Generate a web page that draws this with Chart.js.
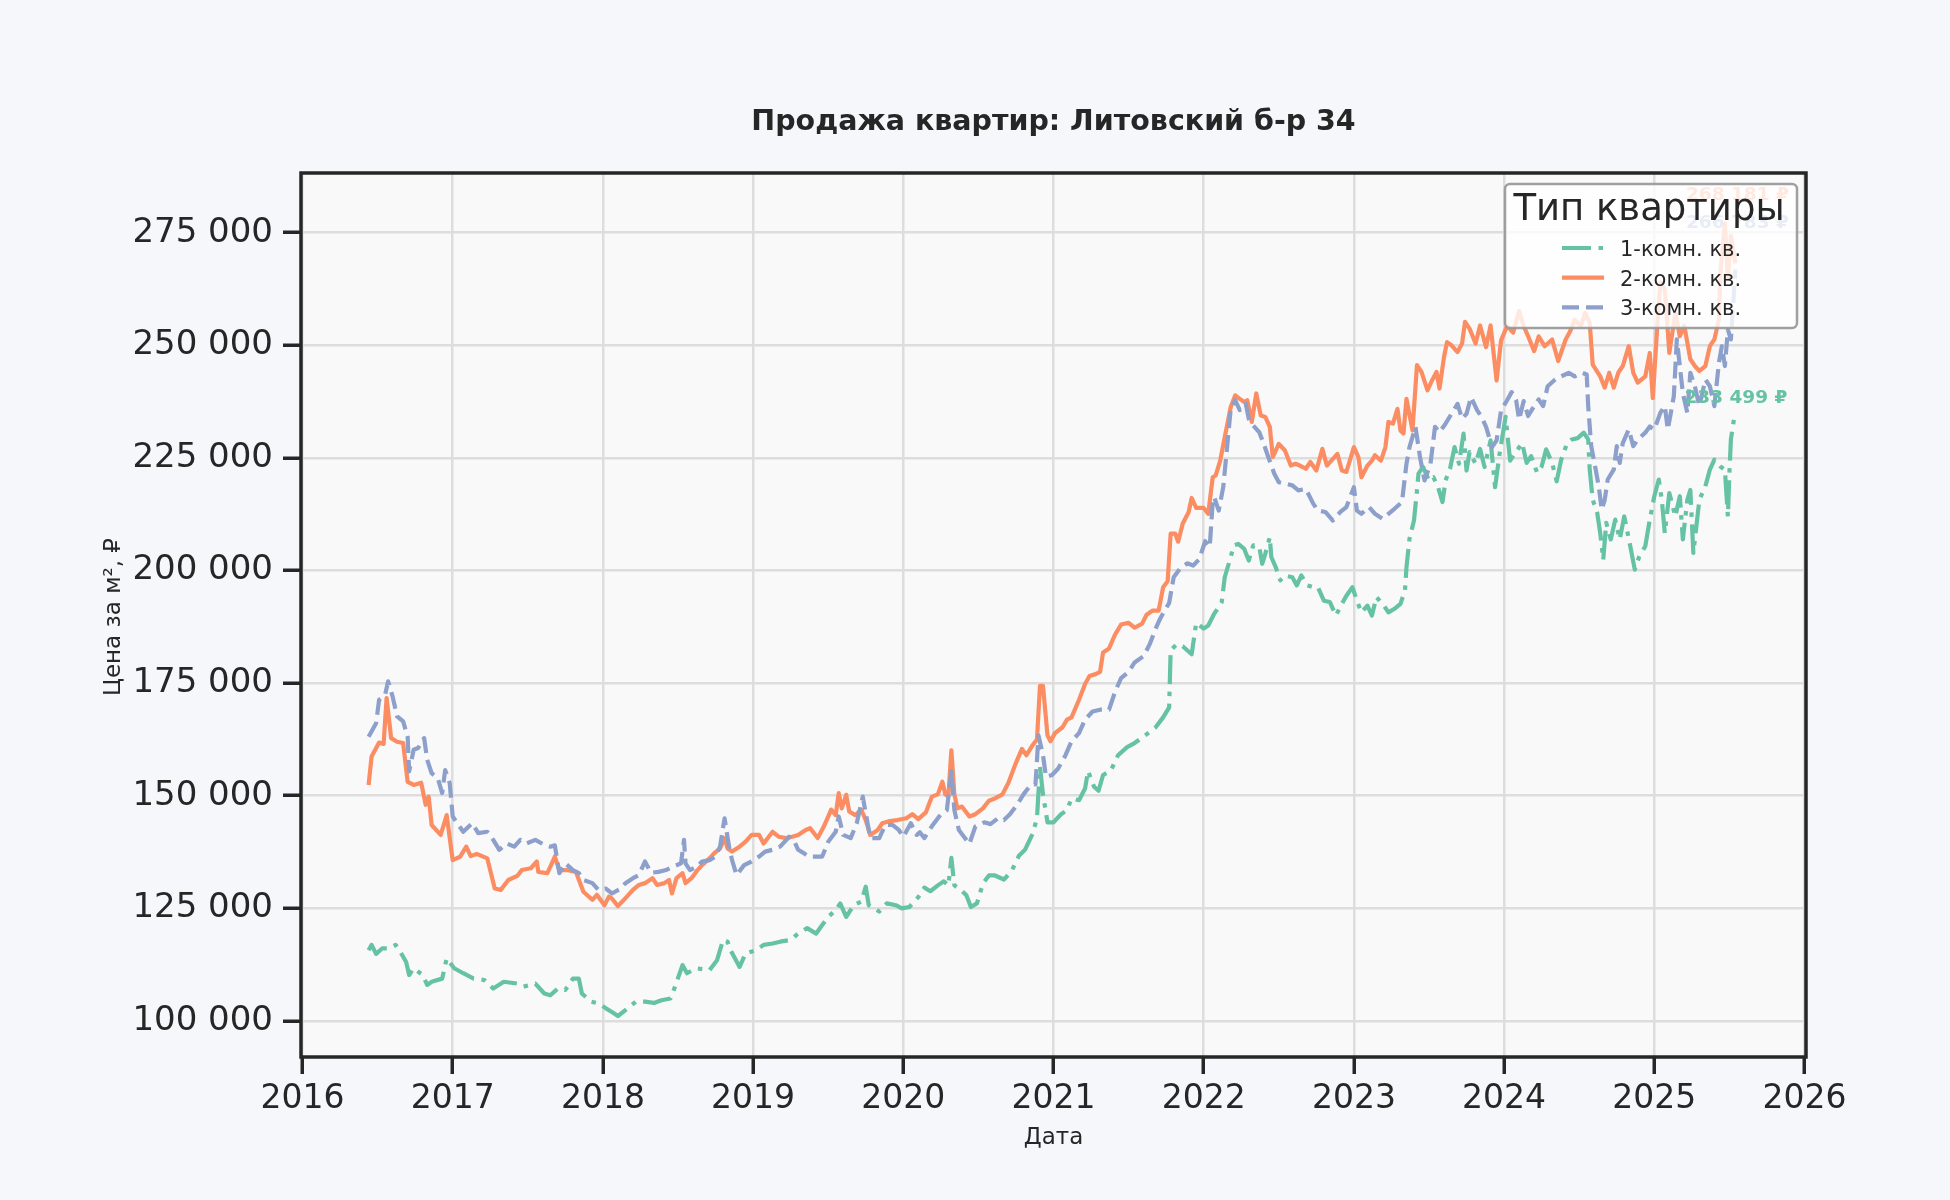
<!DOCTYPE html>
<html lang="ru">
<head>
<meta charset="utf-8">
<title>Продажа квартир: Литовский б-р 34</title>
<script src="https://cdn.jsdelivr.net/npm/chart.js@4.4.1/dist/chart.umd.min.js"></script>
<style>
  html, body { margin: 0; padding: 0; background: #f5f7fa; }
  canvas { display: block; }
</style>
</head>
<body>
<canvas id="priceChart" width="1950" height="1200" style="width:1950px;height:1200px"></canvas>
<script>
// Ось X — годы, ось Y — цена за м² (тыс. ₽ в массивах ниже)
const X_TICKS = [2016, 2017, 2018, 2019, 2020, 2021, 2022, 2023, 2024, 2025, 2026];
const Y_TICKS = [100000, 125000, 150000, 175000, 200000, 225000, 250000, 275000];
const SERIES_NAMES = ['1-комн. кв.', '2-комн. кв.', '3-комн. кв.'];

// [дата (доля года), цена тыс. ₽]
const ONE_ROOM = [
  [2016.44,115.7],[2016.46,116.9],[2016.49,114.9],[2016.53,116.1],[2016.57,116.1],[2016.62,116.9],[2016.65,115.4],
  [2016.69,113.1],[2016.71,110.2],[2016.74,111.7],[2016.80,110.2],[2016.83,108.0],[2016.86,108.7],[2016.93,109.4],
  [2016.96,113.9],[2017.01,111.7],[2017.07,110.6],[2017.14,109.4],[2017.21,109.1],[2017.27,107.2],[2017.34,108.7],
  [2017.43,108.3],[2017.47,107.6],[2017.55,108.3],[2017.61,106.1],[2017.65,105.7],[2017.70,107.2],[2017.75,106.9],
  [2017.80,109.4],[2017.84,109.4],[2017.86,106.1],[2017.92,104.3],[2017.97,103.9],[2018.02,102.8],[2018.06,102.0],
  [2018.10,101.1],[2018.15,102.4],[2018.22,104.3],[2018.28,104.3],[2018.34,104.0],[2018.39,104.6],[2018.45,105.0],
  [2018.48,107.6],[2018.53,112.4],[2018.56,110.6],[2018.62,111.7],[2018.71,111.3],[2018.76,113.5],[2018.80,118.0],
  [2018.83,117.6],[2018.85,115.7],[2018.91,112.0],[2018.95,115.0],[2019.02,115.7],[2019.07,116.9],[2019.13,117.2],
  [2019.18,117.6],[2019.25,118.0],[2019.30,119.4],[2019.36,120.6],[2019.42,119.4],[2019.46,121.3],[2019.50,123.1],
  [2019.55,124.6],[2019.58,126.1],[2019.62,123.1],[2019.67,125.7],[2019.72,126.5],[2019.75,129.8],[2019.77,125.7],
  [2019.84,124.3],[2019.89,126.1],[2019.95,125.7],[2019.99,125.0],[2020.04,125.3],[2020.10,127.5],[2020.14,129.6],
  [2020.18,128.8],[2020.23,130.1],[2020.27,131.0],[2020.30,130.1],[2020.32,136.2],[2020.34,130.1],[2020.38,129.2],
  [2020.42,127.9],[2020.45,125.3],[2020.49,126.1],[2020.53,130.5],[2020.57,132.3],[2020.61,132.3],[2020.67,131.4],
  [2020.72,133.2],[2020.77,136.7],[2020.81,138.0],[2020.86,141.5],[2020.89,145.0],[2020.91,156.4],[2020.93,150.3],
  [2020.96,144.1],[2021.00,144.1],[2021.05,145.9],[2021.09,146.8],[2021.12,149.4],[2021.17,149.0],[2021.21,151.6],
  [2021.23,155.5],[2021.27,152.0],[2021.30,151.1],[2021.33,154.6],[2021.38,155.5],[2021.43,159.0],[2021.49,160.8],
  [2021.54,161.7],[2021.61,163.4],[2021.68,165.2],[2021.73,167.4],[2021.77,169.6],[2021.78,182.3],[2021.82,183.6],
  [2021.86,183.2],[2021.92,181.4],[2021.95,188.4],[2022.00,187.1],[2022.03,187.8],[2022.07,190.4],[2022.10,191.9],
  [2022.12,193.0],[2022.14,198.5],[2022.18,203.0],[2022.20,205.6],[2022.23,205.9],[2022.27,204.8],[2022.30,202.2],
  [2022.33,205.6],[2022.37,205.2],[2022.39,201.5],[2022.41,203.7],[2022.44,207.4],[2022.45,203.0],[2022.48,200.7],
  [2022.51,197.8],[2022.54,198.9],[2022.59,198.5],[2022.62,196.7],[2022.65,198.9],[2022.69,196.7],[2022.73,196.3],
  [2022.76,196.3],[2022.80,193.3],[2022.84,193.0],[2022.88,190.0],[2022.92,192.6],[2022.95,194.4],[2022.99,196.3],
  [2023.02,193.3],[2023.05,190.7],[2023.09,192.2],[2023.12,190.0],[2023.15,194.1],[2023.20,192.2],[2023.23,190.7],
  [2023.27,191.5],[2023.31,192.6],[2023.34,195.6],[2023.35,200.7],[2023.37,207.0],[2023.40,211.1],[2023.42,217.8],
  [2023.43,221.5],[2023.46,223.0],[2023.50,220.0],[2023.53,220.7],[2023.56,218.5],[2023.59,215.2],[2023.61,220.0],
  [2023.64,222.6],[2023.67,227.4],[2023.70,223.7],[2023.73,230.4],[2023.75,222.2],[2023.77,226.3],[2023.81,223.7],
  [2023.84,227.0],[2023.87,223.0],[2023.91,228.9],[2023.94,218.5],[2023.97,225.9],[2024.01,234.1],[2024.04,224.4],
  [2024.07,225.9],[2024.12,228.3],[2024.15,223.9],[2024.18,225.4],[2024.22,221.7],[2024.25,223.1],[2024.28,226.9],
  [2024.32,223.9],[2024.35,219.8],[2024.38,224.6],[2024.42,228.3],[2024.45,229.1],[2024.49,229.4],[2024.53,230.6],
  [2024.56,229.1],[2024.57,222.4],[2024.59,215.7],[2024.62,212.8],[2024.64,208.3],[2024.66,202.4],[2024.68,210.6],
  [2024.71,206.9],[2024.74,211.3],[2024.77,206.9],[2024.80,212.0],[2024.84,205.4],[2024.87,200.2],[2024.90,203.1],
  [2024.94,205.4],[2024.97,211.3],[2025.00,216.5],[2025.03,220.2],[2025.05,215.7],[2025.07,208.3],[2025.10,217.2],
  [2025.14,212.0],[2025.17,216.5],[2025.19,206.9],[2025.22,215.7],[2025.24,217.9],[2025.26,203.9],[2025.28,209.8],
  [2025.30,215.7],[2025.34,218.7],[2025.37,222.4],[2025.40,224.6],[2025.44,223.1],[2025.47,222.4],[2025.49,212.0],
  [2025.50,221.7],[2025.51,229.1],[2025.53,233.499]
];

const TWO_ROOM = [
  [2016.44,152.4],[2016.46,158.7],[2016.51,161.8],[2016.54,161.5],[2016.56,171.7],[2016.59,162.8],[2016.63,162.0],
  [2016.67,161.7],[2016.70,153.1],[2016.74,152.4],[2016.79,152.9],[2016.82,148.0],[2016.84,149.8],[2016.86,143.5],
  [2016.92,141.3],[2016.96,145.7],[2017.00,135.7],[2017.05,136.5],[2017.09,138.7],[2017.12,136.6],[2017.16,137.1],
  [2017.23,136.1],[2017.28,129.4],[2017.32,129.1],[2017.37,131.3],[2017.43,132.2],[2017.46,133.5],[2017.52,133.9],
  [2017.56,135.4],[2017.57,133.1],[2017.63,132.8],[2017.66,135.0],[2017.68,136.5],[2017.71,133.5],[2017.76,133.5],
  [2017.82,133.1],[2017.87,128.7],[2017.93,126.9],[2017.96,128.0],[2018.01,125.7],[2018.04,127.6],[2018.06,127.2],
  [2018.10,125.5],[2018.14,126.9],[2018.20,129.1],[2018.24,130.2],[2018.28,130.6],[2018.33,131.7],[2018.36,130.2],
  [2018.41,130.6],[2018.44,131.3],[2018.46,128.3],[2018.49,131.7],[2018.53,132.8],[2018.55,130.6],[2018.59,131.7],
  [2018.63,133.5],[2018.66,134.6],[2018.71,136.1],[2018.74,137.2],[2018.78,138.3],[2018.81,140.6],[2018.83,138.3],
  [2018.86,137.6],[2018.91,138.7],[2018.95,139.8],[2018.99,141.3],[2019.04,141.3],[2019.07,139.4],[2019.13,142.0],
  [2019.17,140.9],[2019.22,140.6],[2019.26,140.9],[2019.30,141.3],[2019.35,142.4],[2019.38,142.8],[2019.43,140.6],
  [2019.47,143.1],[2019.52,146.9],[2019.55,145.7],[2019.57,150.6],[2019.59,147.2],[2019.62,150.2],[2019.64,146.5],
  [2019.68,145.7],[2019.72,146.9],[2019.75,144.6],[2019.78,141.3],[2019.83,142.4],[2019.86,143.9],[2019.90,144.3],
  [2019.96,144.6],[2020.02,145.0],[2020.06,145.9],[2020.10,144.8],[2020.15,146.3],[2020.19,149.8],[2020.23,150.3],
  [2020.26,153.1],[2020.28,150.3],[2020.30,149.8],[2020.32,160.1],[2020.34,150.3],[2020.36,147.2],[2020.39,147.6],
  [2020.44,145.4],[2020.48,145.9],[2020.53,147.2],[2020.57,148.9],[2020.61,149.4],[2020.66,150.3],[2020.70,152.9],
  [2020.75,157.3],[2020.79,160.4],[2020.82,159.0],[2020.86,161.2],[2020.89,162.5],[2020.91,174.4],[2020.93,174.4],
  [2020.96,163.4],[2020.98,162.1],[2021.01,163.9],[2021.06,165.2],[2021.09,166.9],[2021.12,167.4],[2021.17,171.3],
  [2021.21,174.8],[2021.24,176.6],[2021.28,177.0],[2021.31,177.5],[2021.33,181.8],[2021.37,182.7],[2021.41,185.8],
  [2021.45,188.0],[2021.50,188.4],[2021.54,187.3],[2021.59,188.2],[2021.62,190.2],[2021.66,191.1],[2021.70,191.1],
  [2021.73,196.3],[2021.76,197.6],[2021.78,208.2],[2021.81,208.2],[2021.83,206.4],[2021.86,210.4],[2021.90,213.0],
  [2021.92,216.1],[2021.95,213.9],[2022.00,213.9],[2022.03,212.6],[2022.06,220.7],[2022.08,221.1],[2022.11,224.4],
  [2022.14,229.6],[2022.18,236.3],[2022.21,238.9],[2022.24,238.1],[2022.27,237.4],[2022.29,237.8],[2022.32,233.0],
  [2022.35,239.3],[2022.38,234.4],[2022.41,234.1],[2022.44,231.9],[2022.46,225.2],[2022.50,228.1],[2022.54,226.7],
  [2022.58,223.3],[2022.61,223.7],[2022.64,223.3],[2022.68,222.6],[2022.71,224.1],[2022.75,222.2],[2022.79,227.0],
  [2022.82,223.3],[2022.85,224.4],[2022.89,225.9],[2022.92,222.2],[2022.95,221.9],[2023.00,227.4],[2023.03,225.2],
  [2023.05,220.7],[2023.09,223.3],[2023.12,224.4],[2023.14,225.6],[2023.18,224.4],[2023.21,227.4],[2023.23,233.0],
  [2023.26,232.6],[2023.29,235.9],[2023.31,231.1],[2023.33,230.4],[2023.35,238.1],[2023.39,231.1],[2023.42,245.6],
  [2023.45,244.1],[2023.49,240.0],[2023.52,242.2],[2023.55,244.1],[2023.57,240.4],[2023.60,247.4],[2023.62,250.7],
  [2023.65,250.0],[2023.69,248.5],[2023.72,250.4],[2023.74,255.2],[2023.77,253.7],[2023.81,250.4],[2023.84,254.4],
  [2023.88,249.6],[2023.91,254.4],[2023.95,242.2],[2023.98,251.1],[2024.02,254.3],[2024.06,252.8],[2024.10,257.6],
  [2024.13,254.3],[2024.16,252.0],[2024.20,248.7],[2024.23,252.0],[2024.27,249.8],[2024.32,251.3],[2024.36,246.5],
  [2024.41,251.3],[2024.44,253.1],[2024.47,255.7],[2024.51,254.3],[2024.54,257.2],[2024.57,255.0],[2024.59,245.7],
  [2024.64,243.1],[2024.67,240.6],[2024.70,243.9],[2024.73,240.6],[2024.76,243.9],[2024.79,245.4],[2024.83,249.8],
  [2024.86,243.9],[2024.89,241.7],[2024.94,243.1],[2024.97,248.3],[2024.99,238.3],[2025.02,254.3],[2025.04,264.0],
  [2025.07,262.4],[2025.10,248.3],[2025.14,257.2],[2025.17,252.0],[2025.20,254.3],[2025.24,246.9],[2025.27,245.4],
  [2025.30,244.3],[2025.34,245.4],[2025.37,249.8],[2025.40,251.3],[2025.43,255.7],[2025.44,266.1],[2025.47,277.0],
  [2025.49,264.6],[2025.51,274.3],[2025.54,268.181]
];

const THREE_ROOM = [
  [2016.44,163.1],[2016.49,166.1],[2016.51,171.3],[2016.55,172.4],[2016.57,175.4],[2016.60,172.0],[2016.63,167.6],
  [2016.67,166.5],[2016.70,163.1],[2016.71,155.4],[2016.74,160.2],[2016.77,160.6],[2016.81,162.8],[2016.83,158.0],
  [2016.86,155.0],[2016.90,153.9],[2016.93,150.6],[2016.95,155.7],[2016.98,152.8],[2017.00,145.4],[2017.03,143.9],
  [2017.07,142.0],[2017.13,143.9],[2017.17,141.7],[2017.23,142.0],[2017.27,140.2],[2017.31,138.0],[2017.36,139.4],
  [2017.41,138.7],[2017.45,140.2],[2017.49,139.4],[2017.55,140.2],[2017.61,139.1],[2017.65,138.7],[2017.68,139.0],
  [2017.71,132.8],[2017.75,135.0],[2017.80,133.5],[2017.84,132.8],[2017.87,131.3],[2017.93,130.6],[2017.97,129.1],
  [2018.02,129.4],[2018.06,128.3],[2018.12,129.4],[2018.15,130.6],[2018.20,131.7],[2018.24,132.4],[2018.28,135.4],
  [2018.32,132.9],[2018.37,133.1],[2018.42,133.5],[2018.47,134.3],[2018.52,135.0],[2018.54,140.2],[2018.55,135.0],
  [2018.58,133.5],[2018.63,134.3],[2018.66,135.4],[2018.71,135.7],[2018.75,136.5],[2018.78,138.7],[2018.81,145.0],
  [2018.84,138.7],[2018.86,135.7],[2018.89,132.4],[2018.94,134.6],[2018.99,135.4],[2019.04,136.5],[2019.08,137.6],
  [2019.13,138.0],[2019.18,138.7],[2019.24,140.9],[2019.27,140.2],[2019.30,138.0],[2019.34,137.2],[2019.37,136.5],
  [2019.42,136.5],[2019.46,136.5],[2019.50,139.8],[2019.55,142.0],[2019.57,145.4],[2019.60,141.3],[2019.65,140.6],
  [2019.69,143.9],[2019.73,149.8],[2019.75,146.1],[2019.78,140.6],[2019.84,140.6],[2019.88,143.5],[2019.93,143.5],
  [2019.97,142.4],[2020.00,140.9],[2020.05,143.9],[2020.09,141.3],[2020.11,141.9],[2020.14,140.6],[2020.19,143.2],
  [2020.25,145.9],[2020.29,146.8],[2020.32,155.5],[2020.34,146.8],[2020.37,142.4],[2020.44,139.3],[2020.48,143.2],
  [2020.54,144.1],[2020.58,143.7],[2020.63,145.0],[2020.67,144.6],[2020.71,145.9],[2020.76,148.1],[2020.80,150.3],
  [2020.85,152.5],[2020.88,152.5],[2020.90,163.4],[2020.93,159.0],[2020.95,154.2],[2020.99,154.6],[2021.03,156.0],
  [2021.08,159.0],[2021.12,162.1],[2021.17,163.9],[2021.21,166.9],[2021.26,168.7],[2021.31,169.1],[2021.37,169.1],
  [2021.41,173.1],[2021.45,176.1],[2021.50,177.5],[2021.54,179.6],[2021.60,181.0],[2021.64,183.6],[2021.68,187.1],
  [2021.71,189.3],[2021.74,191.1],[2021.77,192.8],[2021.80,198.5],[2021.84,200.3],[2021.89,201.6],[2021.93,201.1],
  [2021.97,202.5],[2022.01,206.5],[2022.04,205.2],[2022.06,215.2],[2022.07,216.3],[2022.10,213.3],[2022.13,218.5],
  [2022.16,228.9],[2022.18,235.9],[2022.21,237.8],[2022.24,235.6],[2022.28,237.0],[2022.30,233.7],[2022.33,232.2],
  [2022.37,230.7],[2022.40,228.1],[2022.43,225.2],[2022.47,221.5],[2022.50,219.6],[2022.54,219.3],[2022.59,218.9],
  [2022.63,217.8],[2022.68,218.1],[2022.73,214.8],[2022.76,213.3],[2022.81,213.0],[2022.86,211.1],[2022.91,213.0],
  [2022.95,214.1],[2023.00,218.5],[2023.02,213.3],[2023.05,212.6],[2023.10,214.1],[2023.14,212.6],[2023.19,211.5],
  [2023.23,212.6],[2023.27,213.7],[2023.32,215.2],[2023.35,223.7],[2023.37,227.4],[2023.41,231.9],[2023.44,225.2],
  [2023.47,220.0],[2023.51,223.7],[2023.54,231.9],[2023.57,230.7],[2023.61,232.6],[2023.65,234.8],[2023.69,237.0],
  [2023.72,233.7],[2023.75,234.8],[2023.78,238.5],[2023.82,235.6],[2023.85,234.1],[2023.88,231.9],[2023.92,227.4],
  [2023.95,228.9],[2023.98,235.6],[2024.02,237.8],[2024.05,239.6],[2024.08,237.8],[2024.10,233.5],[2024.13,237.6],
  [2024.16,234.3],[2024.20,236.5],[2024.23,238.0],[2024.26,236.5],[2024.29,240.9],[2024.34,242.4],[2024.38,243.1],
  [2024.43,243.9],[2024.47,243.1],[2024.52,243.9],[2024.55,243.5],[2024.56,236.5],[2024.58,227.6],[2024.61,222.4],
  [2024.63,218.7],[2024.65,213.5],[2024.67,215.7],[2024.69,220.2],[2024.73,222.4],[2024.75,227.6],[2024.77,223.9],
  [2024.79,228.3],[2024.83,231.3],[2024.86,227.6],[2024.89,229.1],[2024.94,230.6],[2024.97,232.0],[2025.00,231.3],
  [2025.04,235.0],[2025.07,236.5],[2025.09,231.3],[2025.13,238.7],[2025.15,251.3],[2025.17,245.4],[2025.19,239.4],
  [2025.22,235.0],[2025.24,243.9],[2025.27,240.9],[2025.30,236.5],[2025.34,242.4],[2025.37,240.9],[2025.40,236.5],
  [2025.43,246.1],[2025.45,249.8],[2025.47,245.4],[2025.49,253.5],[2025.51,251.3],[2025.54,266.783]
];

const COLORS = ['#66c2a5', '#fc8d62', '#8da0cb'];
const DASHES = [[29, 7.5, 4.5, 7.5], [], [17, 7]];
// смещение подписи последнего значения по вертикали, px
const LABEL_SHIFT = [-21, -68, -47];

const INK = '#262626';
const FONT = '"DejaVu Sans", "Liberation Sans", sans-serif';
const LINE_W = 4.2;

function groupThousands(v) {
    return String(Math.round(v)).replace(/\B(?=(\d{3})+(?!\d))/g, ' ');
}

const toPoints = rows => rows.map(r => ({ x: r[0], y: r[1] * 1000 }));

const backgroundPlugin = {
    id: 'backgrounds',
    beforeDraw(chart) {
        const { ctx, chartArea: a } = chart;
        ctx.save();
        ctx.fillStyle = '#f5f7fa';
        ctx.fillRect(0, 0, chart.width, chart.height);
        ctx.fillStyle = '#f9f9f9';
        ctx.fillRect(a.left, a.top, a.right - a.left, a.bottom - a.top);
        ctx.restore();
    }
};

const decorPlugin = {
    id: 'decor',
    afterDatasetsDraw(chart) {
        const { ctx, chartArea: a } = chart;
        ctx.save();
        // подписи последних значений
        ctx.font = 'bold 18.5px ' + FONT;
        ctx.textAlign = 'center';
        ctx.textBaseline = 'middle';
        chart.data.datasets.forEach((ds, i) => {
            const meta = chart.getDatasetMeta(i);
            const last = meta.data[meta.data.length - 1];
            const v = ds.data[ds.data.length - 1].y;
            ctx.fillStyle = COLORS[i];
            ctx.fillText(groupThousands(v) + ' ₽', last.x + 2, last.y + LABEL_SHIFT[i]);
        });
        // рамка
        ctx.strokeStyle = INK;
        ctx.lineWidth = 3.5;
        ctx.strokeRect(a.left, a.top, a.right - a.left, a.bottom - a.top);
        // заголовки
        ctx.fillStyle = INK;
        ctx.textBaseline = 'alphabetic';
        ctx.font = 'bold 28.5px ' + FONT;
        ctx.fillText('Продажа квартир: Литовский б-р 34', (a.left + a.right) / 2, 130);
        ctx.font = '23px ' + FONT;
        ctx.fillText('Дата', (a.left + a.right) / 2, 1144);
        ctx.translate(120, (a.top + a.bottom) / 2 + 2);
        ctx.rotate(-Math.PI / 2);
        ctx.fillText('Цена за м², ₽', 0, 0);
        ctx.restore();
    },
    afterDraw(chart) {
        const { ctx, chartArea: a } = chart;
        const w = 292, h = 144;
        const x = a.right - 9 - w, y = a.top + 11;
        ctx.save();
        ctx.beginPath();
        ctx.roundRect(x, y, w, h, 5);
        ctx.fillStyle = 'rgba(255,255,255,0.8)';
        ctx.fill();
        ctx.strokeStyle = 'rgba(150,150,150,0.9)';
        ctx.lineWidth = 2.5;
        ctx.stroke();
        ctx.fillStyle = INK;
        ctx.textAlign = 'center';
        ctx.font = '37px ' + FONT;
        ctx.fillText('Тип квартиры', x + w / 2 - 2, y + 36);
        ctx.textAlign = 'left';
        ctx.font = '21px ' + FONT;
        SERIES_NAMES.forEach((name, i) => {
            const base = y + 72 + i * 29.7;
            ctx.beginPath();
            ctx.setLineDash(DASHES[i]);
            ctx.strokeStyle = COLORS[i];
            ctx.lineWidth = LINE_W;
            ctx.moveTo(x + 57, base - 8);
            ctx.lineTo(x + 99, base - 8);
            ctx.stroke();
            ctx.setLineDash([]);
            ctx.fillStyle = INK;
            ctx.fillText(name, x + 115, base);
        });
        ctx.restore();
    }
};

const series = [ONE_ROOM, TWO_ROOM, THREE_ROOM];

new Chart(document.getElementById('priceChart'), {
    type: 'line',
    data: {
        datasets: series.map((rows, i) => ({
            label: SERIES_NAMES[i],
            data: toPoints(rows),
            borderColor: COLORS[i],
            borderDash: DASHES[i],
            borderWidth: LINE_W,
            borderCapStyle: 'butt',
            borderJoinStyle: 'round',
            pointRadius: 0,
            tension: 0,
            fill: false,
            order: 3 - i
        }))
    },
    options: {
        responsive: false,
        devicePixelRatio: 1,
        animation: false,
        layout: { padding: { left: 0, right: 144, top: 173, bottom: 0 } },
        plugins: {
            legend: { display: false },
            title: { display: false },
            tooltip: { enabled: false }
        },
        scales: {
            x: {
                type: 'linear',
                min: 2015.99,
                max: 2026.01,
                afterBuildTicks: s => { s.ticks = X_TICKS.map(v => ({ value: v })); },
                afterFit: s => { s.height = 143; },
                border: { display: false },
                grid: { color: '#dddddd', lineWidth: 2.5, tickColor: INK, tickWidth: 3.5, tickLength: 17 },
                ticks: {
                    color: INK,
                    font: { family: FONT, size: 33 },
                    padding: 6,
                    maxRotation: 0,
                    callback: v => String(v)
                }
            },
            y: {
                type: 'linear',
                min: 92000,
                max: 288250,
                afterBuildTicks: s => { s.ticks = Y_TICKS.map(v => ({ value: v })); },
                afterFit: s => { s.width = 301; },
                border: { display: false },
                grid: { color: '#dddddd', lineWidth: 2.5, tickColor: INK, tickWidth: 3.5, tickLength: 18 },
                ticks: {
                    color: INK,
                    font: { family: FONT, size: 34 },
                    padding: 10,
                    callback: v => groupThousands(v)
                }
            }
        }
    },
    plugins: [backgroundPlugin, decorPlugin]
});
</script>
</body>
</html>
